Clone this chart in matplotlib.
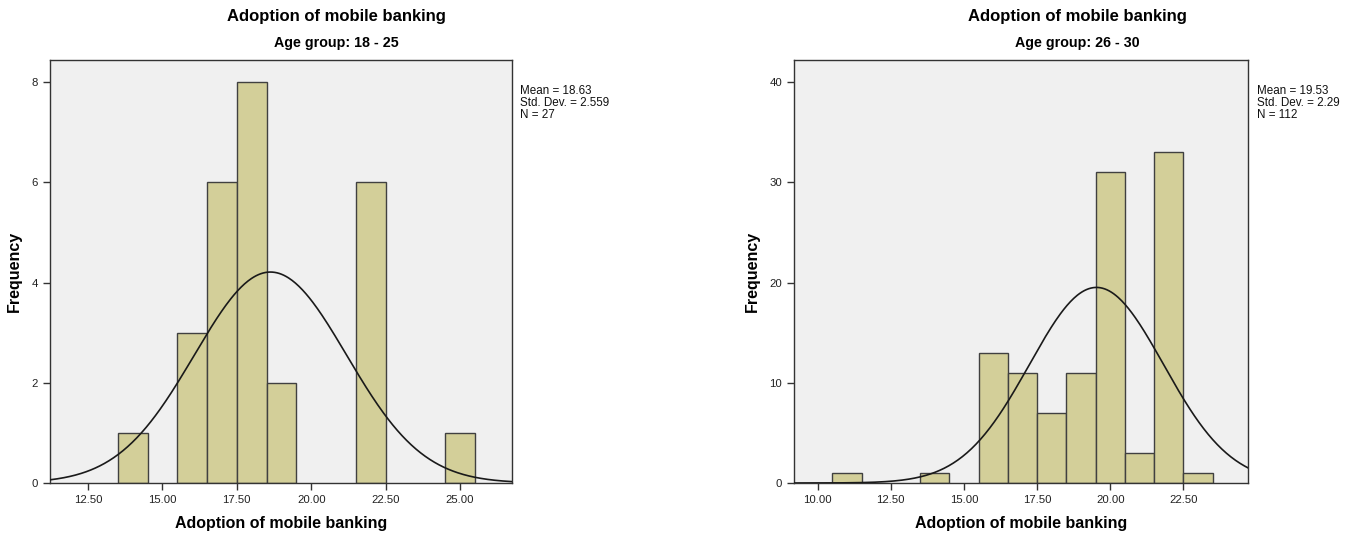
import numpy as np
import matplotlib
matplotlib.use("Agg")
import matplotlib.pyplot as plt

plt.rcParams['font.family'] = ['Liberation Sans', 'DejaVu Sans']

# Frequencies per integer score (bins of width 1 centred on each score)
scores_18_25 = [14, 16, 17, 18, 19, 22, 25]
counts_18_25 = [1, 3, 6, 8, 2, 6, 1]
stats_18_25 = {"mean": 18.63, "sd": 2.559, "n": 27}

scores_26_30 = [11, 14, 16, 17, 18, 19, 20, 21, 22, 23]
counts_26_30 = [1, 1, 13, 11, 7, 11, 31, 3, 33, 1]
stats_26_30 = {"mean": 19.53, "sd": 2.29, "n": 112}

xticks_18_25 = [12.5, 15.0, 17.5, 20.0, 22.5, 25.0]
xticks_26_30 = [10.0, 12.5, 15.0, 17.5, 20.0, 22.5]
yticks_18_25 = [0, 2, 4, 6, 8]
yticks_26_30 = [0, 10, 20, 30, 40]

W, H = 1356, 533
fig = plt.figure(figsize=(W / 100, H / 100), dpi=100)
fig.patch.set_facecolor("white")

BAR_FILL = "#D3CF99"
BAR_EDGE = "#404040"
PANEL_BG = "#F0F0F0"


def px_axes(x0, x1, y0, y1):
    return fig.add_axes([x0 / W, 1 - y1 / H, (x1 - x0) / W, (y1 - y0) / H])


def panel(ax, scores, counts, st, xlim, ylim, xticks, yticks):
    ax.set_facecolor(PANEL_BG)
    ax.bar(scores, counts, width=1.0, color=BAR_FILL, edgecolor=BAR_EDGE,
           linewidth=1.0, zorder=2)
    xs = np.linspace(xlim[0], xlim[1], 400)
    pdf = np.exp(-0.5 * ((xs - st["mean"]) / st["sd"]) ** 2) / (st["sd"] * np.sqrt(2 * np.pi))
    ax.plot(xs, st["n"] * 1.0 * pdf, color="#1a1a1a", lw=1.2, zorder=3)
    ax.set_xlim(*xlim)
    ax.set_ylim(*ylim)
    ax.set_xticks(xticks)
    ax.set_xticklabels([f"{t:.2f}" for t in xticks])
    ax.set_yticks(yticks)
    ax.tick_params(axis="both", labelsize=8.2, color="#333333", labelcolor="#222222",
                   length=5, width=1)
    for s in ax.spines.values():
        s.set_color("#333333")
        s.set_linewidth(1.0)
    ax.set_xlabel("Adoption of mobile banking", fontsize=11.5, fontweight="bold",
                  labelpad=8)
    ax.set_ylabel("Frequency", fontsize=11.5, fontweight="bold", labelpad=7)


ax1 = px_axes(50, 512, 60, 483)
panel(ax1, scores_18_25, counts_18_25, stats_18_25, (11.22, 26.75), (0, 8.44),
      xticks_18_25, yticks_18_25)
ax2 = px_axes(794, 1248, 60, 483)
panel(ax2, scores_26_30, counts_26_30, stats_26_30, (9.19, 24.71), (0, 42.2),
      xticks_26_30, yticks_26_30)


def headings(cx, subtitle):
    fig.text(cx / W, 1 - 17 / H, "Adoption of mobile banking", ha="center",
             va="center", fontsize=12, fontweight="bold")
    fig.text(cx / W, 1 - 43 / H, subtitle, ha="center", va="center",
             fontsize=10.3, fontweight="bold")


headings(336, "Age group: 18 - 25")
headings(1077, "Age group: 26 - 30")


def stats_box(x, st, sd_fmt):
    txt = f"Mean = {st['mean']:.2f}\nStd. Dev. = {st['sd']:{sd_fmt}}\nN = {st['n']}"
    fig.text(x / W, 1 - 85 / H, txt, ha="left", va="top", fontsize=8.4,
             linespacing=1.0, color="#111111")


stats_box(520, stats_18_25, ".3f")
stats_box(1257, stats_26_30, ".2f")

fig.savefig("out.png", dpi=100, facecolor="white")
